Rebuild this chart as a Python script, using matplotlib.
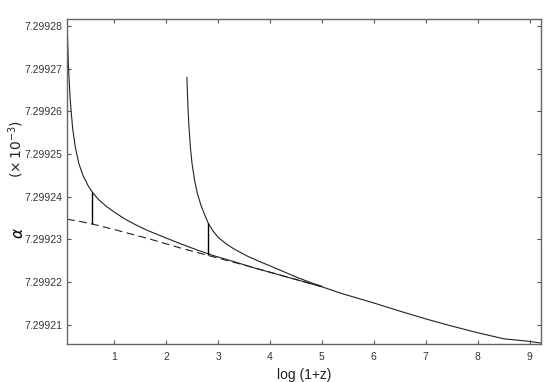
import matplotlib
matplotlib.use("Agg")
import matplotlib.pyplot as plt

# values (alpha in units of 1e-3)
x_c1 = [0.09, 0.10, 0.11, 0.12, 0.13, 0.15, 0.17, 0.20, 0.25, 0.32, 0.40,
        0.50, 0.575, 0.70, 0.85, 1.0, 1.2, 1.4, 1.62, 1.9, 2.27, 2.6, 2.91,
        3.3, 3.7, 4.0, 4.5, 5.0, 5.36, 6.0, 6.5, 7.02, 7.5, 8.01, 8.51,
        9.01, 9.22]
y_c1 = [7.2992812, 7.2992777, 7.2992737, 7.2992700, 7.2992677, 7.2992632,
        7.2992600, 7.2992559, 7.2992516, 7.2992477, 7.2992449, 7.2992425,
        7.2992411, 7.2992393, 7.2992377, 7.2992364, 7.2992348, 7.2992335,
        7.2992322, 7.2992308, 7.2992290, 7.2992275, 7.2992262, 7.2992248,
        7.2992233, 7.2992223, 7.2992206, 7.2992189, 7.2992174, 7.2992151,
        7.2992132, 7.2992113, 7.2992097, 7.2992081, 7.2992067, 7.2992061,
        7.2992057]

x_c2 = [2.40, 2.42, 2.44, 2.47, 2.50, 2.55, 2.60, 2.67, 2.74, 2.81, 2.90,
        3.0, 3.15, 3.3, 3.56, 3.8, 4.0, 4.25, 4.52, 4.8, 5.0]
y_c2 = [7.2992679, 7.2992609, 7.2992562, 7.2992511, 7.2992476, 7.2992437,
        7.2992408, 7.2992380, 7.2992358, 7.2992338, 7.2992320, 7.2992305,
        7.2992290, 7.2992278, 7.2992261, 7.2992248, 7.2992238, 7.2992225,
        7.2992211, 7.2992198, 7.2992190]

x_dash = [0.09, 0.34, 0.575, 1.0, 1.62, 2.27, 2.91, 3.5, 4.0, 4.5, 5.0]
y_dash = [7.2992347, 7.2992342, 7.2992336, 7.2992323, 7.2992303, 7.2992280,
          7.2992259, 7.2992240, 7.2992223, 7.2992206, 7.2992189]

# vertical markers: x, top, bottom
mark_x = [0.575, 2.81]
mark_top = [7.2992411, 7.2992338]
mark_bot = [7.2992336, 7.2992264]

yticks = [7.29921, 7.29922, 7.29923, 7.29924, 7.29925, 7.29926, 7.29927, 7.29928]
ytick_labels = ['7.29921', '7.29922', '7.29923', '7.29924', '7.29925',
                '7.29926', '7.29927', '7.29928']
xticks = [1, 2, 3, 4, 5, 6, 7, 8, 9]

plt.rcParams['font.family'] = ['Liberation Sans', 'DejaVu Sans']

fig = plt.figure(figsize=(5.45, 3.82), dpi=100)
ax = fig.add_axes([0.1229, 0.0995, 0.8698, 0.8508])

ax.plot(x_c1, y_c1, color='#222222', lw=0.8)
ax.plot(x_c2, y_c2, color='#222222', lw=0.8)
ax.plot(x_dash, y_dash, color='#222222', lw=0.8, dashes=(7, 4))
ax.vlines(mark_x, mark_bot, mark_top, color='black', lw=1.0)

ax.set_xlim(0.09, 9.22)
ax.set_ylim(7.2992055, 7.2992816)
ax.set_xticks(xticks)
ax.set_yticks(yticks)
ax.set_yticklabels(ytick_labels)
ax.tick_params(direction='in', top=True, right=True, length=3, width=0.8,
               labelsize=7.5, labelcolor='#333333', color='#555555')
ax.tick_params(axis='x', pad=6)
for s in ax.spines.values():
    s.set_color('#666666')
    s.set_linewidth(1.0)

ax.set_xlabel('log (1+z)', fontsize=10, color='#222222', labelpad=4)
fig.text(0.035, 0.39, r'$\alpha$', rotation=90, fontsize=11, ha='center', va='center')
fig.text(0.029, 0.61, r'$(\times\,10^{-3})$', rotation=90, fontsize=10,
         ha='center', va='center', color='#222222')

fig.savefig('out.png', dpi=100)
